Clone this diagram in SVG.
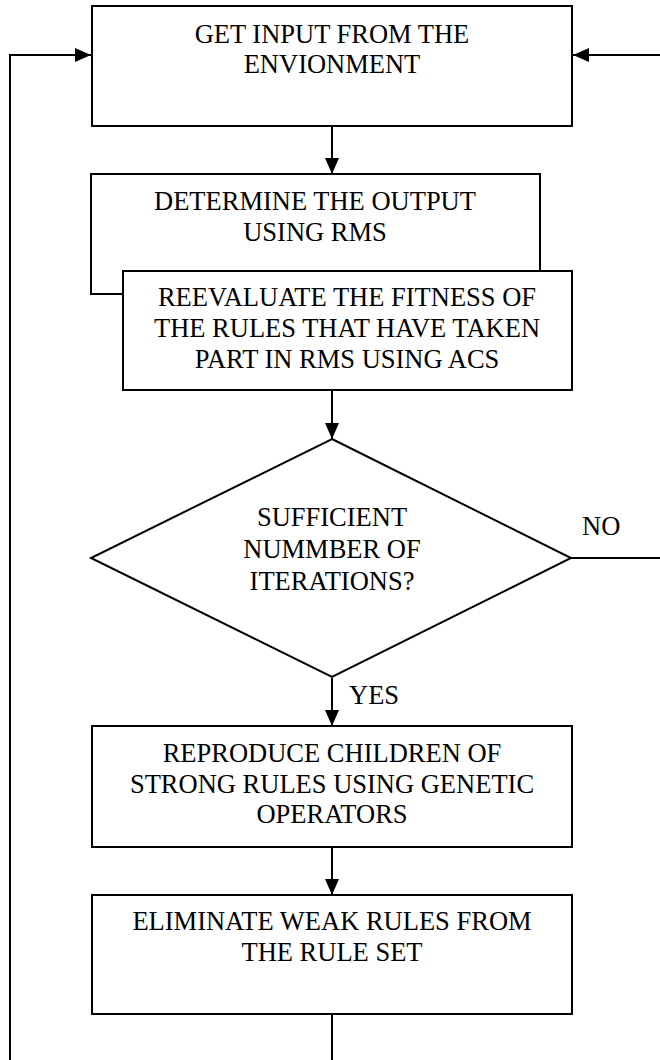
<svg xmlns="http://www.w3.org/2000/svg" width="660" height="1060" viewBox="0 0 660 1060">
  <defs>
    <marker id="arrow" viewBox="0 0 16 14" refX="16" refY="7" markerWidth="16" markerHeight="14" markerUnits="userSpaceOnUse" orient="auto">
      <path d="M0,0 L16,7 L0,14 Z" fill="#000"/>
    </marker>
    <style>
      .box { fill: #fff; stroke: #000; stroke-width: 2; }
      .wire { fill: none; stroke: #000; stroke-width: 2; }
      .lbl { font-family: "Liberation Serif", "Times New Roman", serif; font-size: 26.5px; fill: #000; text-anchor: middle; }
      .tag { font-family: "Liberation Serif", "Times New Roman", serif; font-size: 26.5px; fill: #000; }
    </style>
  </defs>
  <rect width="660" height="1060" fill="#fff"/>

  <!-- connectors -->
  <g id="connectors">
    <path class="wire" d="M10,1060 V55 H91" marker-end="url(#arrow)"/>
    <path class="wire" d="M660,55 H573" marker-end="url(#arrow)"/>
    <path class="wire" d="M332,126 V174" marker-end="url(#arrow)"/>
    <path class="wire" d="M332,390 V439" marker-end="url(#arrow)"/>
    <path class="wire" d="M571,558 H660"/>
    <path class="wire" d="M332,678 V726" marker-end="url(#arrow)"/>
    <path class="wire" d="M332,847 V895" marker-end="url(#arrow)"/>
    <path class="wire" d="M332,1014 V1060"/>
    <text class="tag" x="582" y="535">NO</text>
    <text class="tag" x="349" y="704">YES</text>
  </g>

  <g id="get-input">
    <rect class="box" x="92" y="6" width="480" height="120"/>
    <text class="lbl" x="332" y="43">GET INPUT FROM THE</text>
    <text class="lbl" x="332" y="73">ENVIONMENT</text>
  </g>

  <g id="determine-output">
    <rect class="box" x="91" y="174" width="449" height="120"/>
    <text class="lbl" x="315" y="210">DETERMINE THE OUTPUT</text>
    <text class="lbl" x="315" y="241">USING RMS</text>
  </g>

  <g id="reevaluate-fitness">
    <rect class="box" x="123" y="271" width="449" height="119"/>
    <text class="lbl" x="347" y="306">REEVALUATE THE FITNESS OF</text>
    <text class="lbl" x="347" y="337">THE RULES THAT HAVE TAKEN</text>
    <text class="lbl" x="347" y="368">PART IN RMS USING ACS</text>
  </g>

  <g id="iterations-check">
    <polygon class="box" points="332,439 571,558 332,677 91,558"/>
    <text class="lbl" x="332" y="526">SUFFICIENT</text>
    <text class="lbl" x="332" y="558">NUMMBER OF</text>
    <text class="lbl" x="332" y="590">ITERATIONS?</text>
  </g>

  <g id="reproduce-children">
    <rect class="box" x="92" y="726" width="480" height="121"/>
    <text class="lbl" x="332" y="762">REPRODUCE CHILDREN OF</text>
    <text class="lbl" x="332" y="793">STRONG RULES USING GENETIC</text>
    <text class="lbl" x="332" y="823">OPERATORS</text>
  </g>

  <g id="eliminate-weak">
    <rect class="box" x="92" y="895" width="480" height="119"/>
    <text class="lbl" x="332" y="930">ELIMINATE WEAK RULES FROM</text>
    <text class="lbl" x="332" y="961">THE RULE SET</text>
  </g>
</svg>
